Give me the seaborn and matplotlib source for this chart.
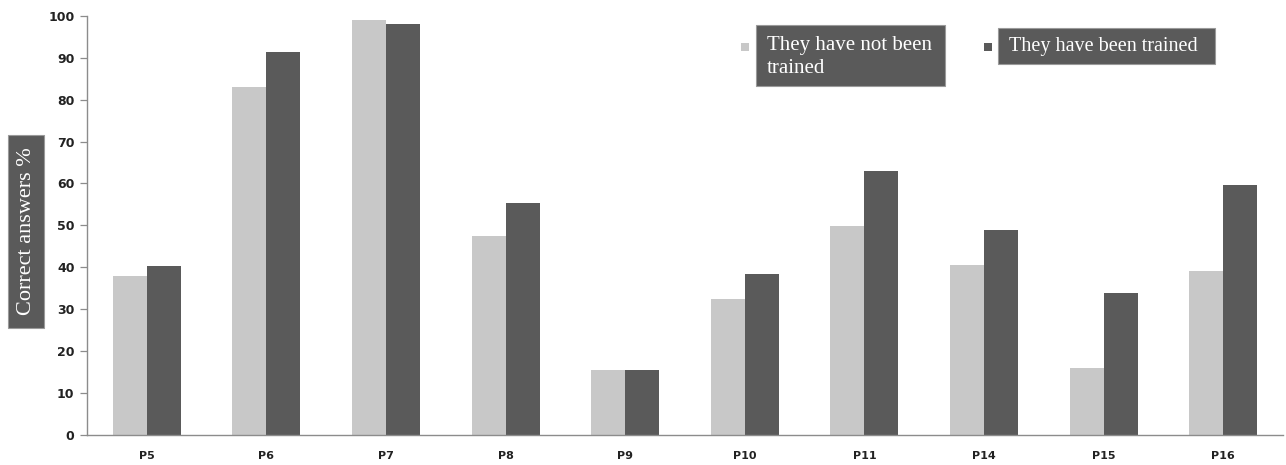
import matplotlib
matplotlib.use("Agg")
import matplotlib.pyplot as plt
from matplotlib.patches import Rectangle
import seaborn as sns
import pandas as pd
import numpy as np

questions = ["P5", "P6", "P7", "P8", "P9", "P10", "P11", "P14", "P15", "P16"]
not_trained = [37.9, 83.1, 99.0, 47.4, 15.4, 32.3, 49.9, 40.6, 16.0, 39.1]
trained = [40.3, 91.3, 98.0, 55.4, 15.4, 38.3, 63.0, 48.8, 33.9, 59.7]
group_labels = ["They have not been\ntrained", "They have been trained"]
y_ticks = list(range(0, 101, 10))

light = "#c8c8c8"
dark = "#5a5a5a"
axis_grey = "#8c8c8c"

df = pd.DataFrame({
    "question": questions * 2,
    "value": not_trained + trained,
    "group": [group_labels[0]] * len(questions) + [group_labels[1]] * len(questions),
})

sns.set_theme(style="white")
plt.rcParams["font.family"] = ["DejaVu Sans"]

W, H = 1286, 465
fig = plt.figure(figsize=(W / 100, H / 100), dpi=100)
ax = fig.add_axes([87 / W, 1 - 434.5 / H, (1283 - 87) / W, (434.5 - 16) / H])

sns.barplot(data=df, x="question", y="value", hue="group", order=questions,
            hue_order=group_labels, palette=[light, dark], width=0.57, gap=0,
            linewidth=0, saturation=1, legend=False, ax=ax)

ax.set_ylim(0, 100)
ax.set_xlim(-0.5, len(questions) - 0.5)
ax.set_yticks(y_ticks)
ax.set_yticklabels([str(t) for t in y_ticks], fontsize=9, fontweight="bold", color="#222222")
ax.set_xticks(range(len(questions)))
ax.set_xticklabels(questions, fontsize=8, fontweight="bold", color="#222222")
ax.set_xlabel("")
ax.set_ylabel("")

# category separators as minor ticks
ax.set_xticks(np.arange(-0.5, len(questions), 1.0), minor=True)
ax.tick_params(axis="x", which="major", length=0, pad=12)
ax.tick_params(axis="x", which="minor", length=4, width=0.9, color=axis_grey, direction="out")
ax.tick_params(axis="y", which="major", length=5, width=0.9, color=axis_grey, direction="out", pad=4, left=True)

for s in ["top", "right"]:
    ax.spines[s].set_visible(False)
for s in ["left", "bottom"]:
    ax.spines[s].set_color(axis_grey)
    ax.spines[s].set_linewidth(1.0)


def fig_box(x0, y0, x1, y1, color):
    fig.patches.append(Rectangle((x0 / W, 1 - y1 / H), (x1 - x0) / W, (y1 - y0) / H,
                                 transform=fig.transFigure, facecolor=color,
                                 edgecolor="#9a9a9a", linewidth=0.8, zorder=5))


serif = ["Liberation Serif", "DejaVu Serif"]

# y-axis title in a dark panel
fig_box(8, 135, 44, 328, dark)
fig.text(27 / W, 1 - 231.5 / H, "Correct answers %", rotation=90, ha="center", va="center",
         color="white", fontsize=16, family=serif, zorder=6)

# legend entries, each in its own panel
fig_box(756, 25, 945, 86, dark)
fig.text(767 / W, 1 - 57 / H, group_labels[0], ha="left", va="center", color="white",
         fontsize=15, family=serif, linespacing=1.35, zorder=6)
fig.patches.append(Rectangle((741 / W, 1 - 51 / H), 8 / W, 8 / H, transform=fig.transFigure,
                             facecolor=light, edgecolor="none", zorder=5))

fig_box(998, 28, 1215, 64, dark)
fig.text(1009 / W, 1 - 46 / H, group_labels[1], ha="left", va="center", color="white",
         fontsize=14.5, family=serif, zorder=6)
fig.patches.append(Rectangle((984 / W, 1 - 51 / H), 8 / W, 8 / H, transform=fig.transFigure,
                             facecolor=dark, edgecolor="none", zorder=5))

fig.savefig("out.png", dpi=100, facecolor="white")
